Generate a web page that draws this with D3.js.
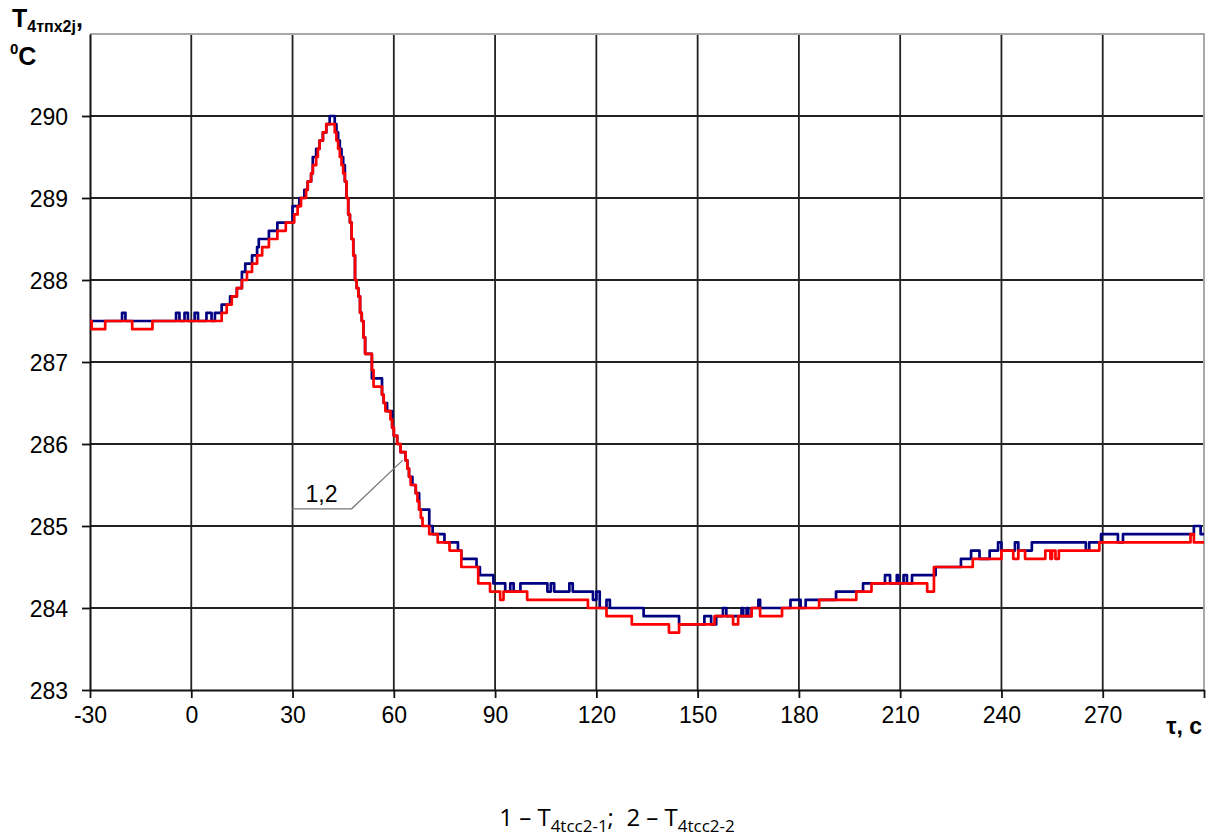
<!DOCTYPE html>
<html>
<head>
<meta charset="utf-8">
<script src="https://cdn.jsdelivr.net/npm/d3@7"></script>
<style>
  body { margin: 0; background: #fff; }
  svg { display: block; font-family: "Liberation Sans", Arial, sans-serif; }
  text { fill: #000; }
</style>
</head>
<body>
<svg id="chart" width="1212" height="836"></svg>
<script>
// time ticks (s) and temperature ticks (°C)
const xTicks = [-30, 0, 30, 60, 90, 120, 150, 180, 210, 240, 270];
const yTicks = [283, 284, 285, 286, 287, 288, 289, 290];

// curve 1 – T4tcc2-1 : [time, temperature] at every step change
const series1 = [
    [-30, 287.5], [-20.5, 287.6], [-19.5, 287.5], [-4.5, 287.6], [-3.5, 287.5], [-2, 287.6], [-1, 287.5],
    [1, 287.6], [2, 287.5], [4.5, 287.6], [6, 287.5], [7, 287.6], [9, 287.7], [11.5, 287.8], [13.5, 287.9],
    [15, 288.1], [16, 288.2], [18, 288.3], [19.5, 288.4], [20, 288.5], [23, 288.6], [25.5, 288.7],
    [30, 288.9], [32, 289.0], [33.5, 289.1], [34.5, 289.2], [35.5, 289.3], [36, 289.5], [37, 289.6],
    [38, 289.7], [39, 289.8], [40, 289.9], [41, 290.0], [42.5, 289.9], [43, 289.8], [43.5, 289.7],
    [44, 289.6], [44.5, 289.5], [45, 289.4], [45.5, 289.2], [46, 289.0], [46.5, 288.8], [47, 288.7],
    [47.5, 288.5], [48, 288.3], [48.5, 288.0], [49, 287.9], [49.5, 287.8], [50, 287.6], [50.5, 287.5],
    [51, 287.3], [51.5, 287.1], [53.5, 286.8], [56.5, 286.6], [57, 286.5], [58, 286.4], [59.5, 286.2],
    [60, 286.1], [61, 286.0], [62, 285.9], [63.5, 285.8], [64, 285.7], [64.5, 285.6], [65.5, 285.5],
    [66.5, 285.4], [67.5, 285.2], [70.5, 285.0], [71.5, 284.9], [75, 284.8], [79, 284.7], [80, 284.6],
    [84.5, 284.5], [85.5, 284.4], [89.5, 284.3], [93, 284.2], [94.5, 284.3], [95.5, 284.2], [97.5, 284.3],
    [105.5, 284.2], [106.5, 284.3], [107.5, 284.2], [112, 284.3], [113, 284.2], [119, 284.1], [120, 284.2],
    [121, 284.0], [123, 284.1], [124, 284.0], [134, 283.9], [144.5, 283.8], [152, 283.9], [154, 283.8],
    [155.5, 283.9], [157.5, 284.0], [158.5, 283.9], [163, 284.0], [163.5, 283.9], [164.5, 284.0],
    [165, 283.9], [166, 284.0], [168, 284.1], [168.5, 284.0], [177.5, 284.1], [180.5, 284.0], [182, 284.1],
    [191, 284.2], [199, 284.3], [205.5, 284.4], [207, 284.3], [209, 284.4], [209.5, 284.3], [211, 284.4],
    [212, 284.3], [213.5, 284.4], [220.5, 284.5], [228, 284.6], [231, 284.7], [233.5, 284.6], [236.5, 284.7],
    [239, 284.8], [240, 284.7], [244, 284.8], [245, 284.7], [249, 284.8], [265, 284.7], [266, 284.8],
    [269.5, 284.9], [274.5, 284.8], [276, 284.9], [297, 285.0], [299, 284.9], [300, 284.9]
];

// curve 2 – T4tcc2-2
const series2 = [
    [-30, 287.5], [-29.5, 287.4], [-25.5, 287.5], [-17.5, 287.4], [-11.5, 287.5],
    [9, 287.6], [10.5, 287.7], [12, 287.8], [13.5, 287.9], [15, 288.0], [16.5, 288.1], [18, 288.2],
    [19.5, 288.3], [21, 288.4], [23, 288.5], [25.5, 288.6], [28, 288.7], [30.5, 288.8], [31.5, 288.9],
    [32.5, 289.0], [34, 289.1], [34.5, 289.2], [35.5, 289.3], [36, 289.4], [37, 289.5], [37.5, 289.6],
    [38, 289.7], [39, 289.8], [40, 289.9], [42.5, 289.8], [43, 289.7], [43.5, 289.6], [44, 289.5],
    [44.5, 289.4], [45, 289.3], [45.5, 289.2], [46, 289.0], [46.5, 288.8], [47, 288.7], [47.5, 288.5],
    [48, 288.3], [48.5, 288.0], [49, 287.9], [49.5, 287.8], [50, 287.6], [50.5, 287.5], [51, 287.3],
    [51.5, 287.1], [53.5, 286.9], [54, 286.7], [56.5, 286.6], [57, 286.5], [57.5, 286.4], [59, 286.3],
    [59.5, 286.2], [60, 286.1], [61, 286.0], [62, 285.9], [63.5, 285.8], [64, 285.7], [64.5, 285.6],
    [65, 285.5], [66.5, 285.4], [67, 285.3], [67.5, 285.2], [68, 285.1], [68.5, 285.0], [70.5, 284.9],
    [73, 284.8], [76.5, 284.7], [80, 284.5], [85, 284.3], [88.5, 284.2], [91.5, 284.1], [92.5, 284.2],
    [99.5, 284.1], [117.5, 284.0], [123, 283.9], [130.5, 283.8], [141.5, 283.7], [144.5, 283.8],
    [155, 283.9], [160.5, 283.8], [162, 283.9], [166, 284.0], [168.5, 283.9], [175, 284.0], [186, 284.1],
    [197, 284.2], [201.5, 284.3], [218, 284.2], [220, 284.5], [231.5, 284.6], [240, 284.7], [243.5, 284.6],
    [245, 284.7], [247, 284.6], [253, 284.7], [254.5, 284.6], [255, 284.7], [256, 284.6], [257, 284.7],
    [269, 284.8], [296, 284.9], [297, 284.8], [300, 284.8]
];

const seriesColors = ['#000080', '#ff0000'];

// leader of the "1,2" label, in data units
const leader = [[29.8, 285.21], [47.5, 285.21], [62.6, 285.8]];
const leaderText = { t: 38.6, v: 285.29, text: '1,2' };

const svg = d3.select('#chart');
const plot = { left: 90, top: 34, right: 1204, bottom: 690 };

const x = d3.scaleLinear().domain([-30, 300]).range([plot.left, plot.right]);
const y = d3.scaleLinear().domain([283, 291]).range([plot.bottom, plot.top]);

// grid
const grid = svg.append('g').attr('stroke', '#222').attr('stroke-width', 1.8);
grid.selectAll('line.v')
    .data(xTicks.filter((d) => d > -30))
    .join('line')
    .attr('x1', (d) => x(d)).attr('x2', (d) => x(d))
    .attr('y1', y(291)).attr('y2', y(283));
grid.selectAll('line.h')
    .data(yTicks.filter((d) => d > 283))
    .join('line')
    .attr('x1', x(-30)).attr('x2', x(300))
    .attr('y1', (d) => y(d)).attr('y2', (d) => y(d));

// light frame top / right
svg.append('path')
    .attr('d', `M${x(-30)},${y(291)}H${x(300)}V${y(283)}`)
    .attr('fill', 'none')
    .attr('stroke', '#a8a8a8')
    .attr('stroke-width', 2);

// axes
const xAxis = svg.append('g')
    .attr('transform', `translate(0,${y(283)})`)
    .call(d3.axisBottom(x).tickValues(xTicks.concat([300])).tickSize(8).tickSizeOuter(0).tickFormat((d) => (d === 300 ? '' : d)));
const yAxis = svg.append('g')
    .attr('transform', `translate(${x(-30)},0)`)
    .call(d3.axisLeft(y).tickValues(yTicks).tickSize(8).tickSizeOuter(0));

[xAxis, yAxis].forEach((a) => {
    a.attr('font-family', null).attr('font-size', null);
    a.select('.domain').attr('stroke', '#111').attr('stroke-width', 2);
    a.selectAll('.tick line').attr('stroke', '#111').attr('stroke-width', 1.8);
    a.selectAll('.tick text').style('font-size', '23px').attr('fill', '#111');
});
xAxis.selectAll('.tick text').attr('y', 17).attr('dy', '0.71em');
yAxis.selectAll('.tick text').attr('x', -22).attr('dy', '0.35em');

// curves
const line = d3.line()
    .x((d) => x(d[0]))
    .y((d) => y(d[1]))
    .curve(d3.curveStepAfter);

svg.append('g')
    .selectAll('path')
    .data([series1, series2])
    .join('path')
    .attr('d', line)
    .attr('fill', 'none')
    .attr('stroke', (d, i) => seriesColors[i])
    .attr('stroke-width', 2.7)
    .attr('stroke-linejoin', 'round');

// label 1,2
svg.append('path')
    .attr('d', d3.line().x((d) => x(d[0])).y((d) => y(d[1]))(leader))
    .attr('fill', 'none')
    .attr('stroke', '#777')
    .attr('stroke-width', 1.2);
svg.append('text')
    .attr('x', x(leaderText.t))
    .attr('y', y(leaderText.v))
    .attr('text-anchor', 'middle')
    .style('font-size', '23px')
    .text(leaderText.text);

// axis titles
const yTitle = svg.append('text').attr('x', 12).attr('y', 27).style('font-weight', 'bold');
yTitle.append('tspan').style('font-size', '25px').text('T');
yTitle.append('tspan').style('font-size', '16px').attr('dy', 5).text('4тпх2j');
yTitle.append('tspan').style('font-size', '25px').attr('dy', -5).text(',');

const yUnit = svg.append('text').attr('x', 10).attr('y', 65).style('font-weight', 'bold');
yUnit.append('tspan').style('font-size', '15px').attr('dy', -11).text('0');
yUnit.append('tspan').style('font-size', '25px').attr('dy', 11).text('C');

svg.append('text')
    .attr('x', x(300) - 2)
    .attr('y', y(283) + 44)
    .attr('text-anchor', 'end')
    .style('font-size', '23px')
    .style('font-weight', 'bold')
    .text('τ, c');

// legend caption
const cap = svg.append('text')
    .attr('x', 617)
    .attr('y', 826)
    .attr('text-anchor', 'middle')
    .style('font-family', '"Open Sans", sans-serif')
    .style('font-size', '24px');
cap.append('tspan').text('1 – T');
cap.append('tspan').style('font-size', '17px').attr('dy', 6).text('4tcc2-1');
cap.append('tspan').attr('dy', -6).text(';\u00a0 2 – T');
cap.append('tspan').style('font-size', '17px').attr('dy', 6).text('4tcc2-2');
</script>
</body>
</html>
